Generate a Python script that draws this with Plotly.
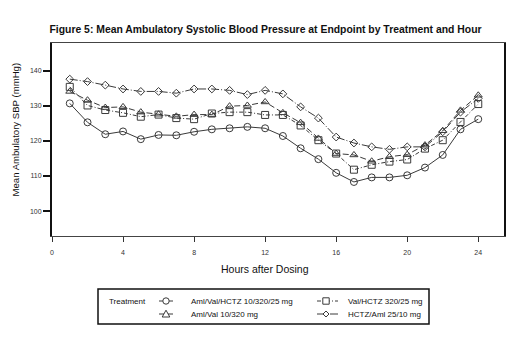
import plotly.graph_objects as go

# Hourly mean ambulatory SBP (mmHg) by treatment
hours = list(range(1, 25))
aml_val_hctz = [130.7, 125.3, 121.9, 122.7, 120.5, 121.7, 121.6, 122.6, 123.3, 123.6, 124.0, 123.6,
                121.4, 117.9, 114.8, 110.9, 108.3, 109.6, 109.6, 110.2, 112.4, 116.0, 123.3, 126.2]
aml_val = [134.1, 131.6, 129.5, 129.7, 128.2, 127.6, 127.0, 127.5, 127.5, 129.9, 130.1, 131.1,
           128.0, 125.2, 120.7, 116.4, 116.0, 114.2, 115.5, 116.1, 118.8, 122.9, 128.7, 133.0]
val_hctz = [135.4, 130.1, 128.8, 128.0, 126.9, 127.5, 126.5, 126.2, 127.8, 128.2, 128.2, 127.4,
            127.4, 124.4, 120.2, 116.4, 111.8, 113.2, 114.1, 114.7, 117.8, 120.2, 125.4, 130.5]
hctz_aml = [137.6, 136.9, 135.9, 134.8, 134.1, 134.1, 133.6, 134.8, 134.8, 134.4, 133.2, 134.4,
            133.4, 129.7, 126.5, 121.1, 119.4, 118.3, 117.6, 118.3, 118.3, 122.6, 128.2, 132.1]

x_ticks = [0, 4, 8, 12, 16, 20, 24]
y_ticks = [100, 110, 120, 130, 140]

FONT = "Liberation Sans, Arial, sans-serif"
LINE = "#3a3a3a"
W, H = 525, 338
ML, MR, MT, MB = 52, 21, 43, 102
PW, PH = W - ML - MR, H - MT - MB


def px(x):
    """Horizontal pixel position -> paper fraction."""
    return (x - ML) / PW


def py(y):
    """Vertical pixel position (from top) -> paper fraction."""
    return (H - MB - y) / PH


# name, values, marker symbol, size, dash pattern, legend column, legend row
series = [
    ("Aml/Val/HCTZ 10/320/25 mg", aml_val_hctz, "circle-open", 7, "solid", 0, 0),
    ("Aml/Val 10/320 mg", aml_val, "triangle-up-open", 7, "6px,3px", 0, 1),
    ("Val/HCTZ 320/25 mg", val_hctz, "square-open", 7, "4px,2px,1px,2px", 1, 0),
    ("HCTZ/Aml 25/10 mg", hctz_aml, "diamond-open", 6, "8px,2px,1px,2px", 1, 1),
]

fig = go.Figure()
for name, vals, sym, size, dash, _, _ in series:
    fig.add_trace(go.Scatter(
        x=hours, y=vals, name=name, mode="lines+markers", showlegend=False,
        line=dict(color=LINE, width=1, dash=dash),
        marker=dict(symbol=sym, size=size, color=LINE, line=dict(width=1, color=LINE)),
    ))

# ---- legend box drawn with shapes and annotations ----
shapes = [dict(type="rect", xref="paper", yref="paper",
               x0=px(98), x1=px(429), y0=py(324), y1=py(289),
               line=dict(color="#111", width=1.5), fillcolor="rgba(0,0,0,0)", layer="above")]
annotations = [dict(text="Treatment", xref="paper", yref="paper", x=px(107), y=py(301),
                    xanchor="left", yanchor="middle", showarrow=False,
                    font=dict(family=FONT, size=8, color="#111"))]

row_y = [301, 314]
col_line = [(159, 173), (317, 338)]
col_mark = [166, 326]
col_text = [189, 346]
for name, _, sym, size, dash, col, row in series:
    yc = row_y[row]
    x0, x1 = col_line[col]
    shapes.append(dict(type="line", xref="paper", yref="paper",
                       x0=px(x0), x1=px(x1), y0=py(yc), y1=py(yc),
                       line=dict(color=LINE, width=1, dash=dash)))
    xc = col_mark[col]
    r = 3.2
    mk = dict(xref="paper", yref="paper", line=dict(color=LINE, width=1), fillcolor="white")
    if sym.startswith("circle"):
        shapes.append(dict(type="circle", x0=px(xc - r), x1=px(xc + r), y0=py(yc + r), y1=py(yc - r), **mk))
    elif sym.startswith("square"):
        shapes.append(dict(type="rect", x0=px(xc - r), x1=px(xc + r), y0=py(yc + r), y1=py(yc - r), **mk))
    elif sym.startswith("triangle"):
        path = "M {} {} L {} {} L {} {} Z".format(px(xc - 3.8), py(yc + 3), px(xc + 3.8), py(yc + 3),
                                                 px(xc), py(yc - 3.8))
        shapes.append(dict(type="path", path=path, **mk))
    else:
        path = "M {} {} L {} {} L {} {} L {} {} Z".format(px(xc - 3), py(yc), px(xc), py(yc - 3),
                                                         px(xc + 3), py(yc), px(xc), py(yc + 3))
        shapes.append(dict(type="path", path=path, **mk))
    annotations.append(dict(text=name, xref="paper", yref="paper", x=px(col_text[col]), y=py(yc),
                            xanchor="left", yanchor="middle", showarrow=False,
                            font=dict(family=FONT, size=8, color="#111")))

# axis titles
annotations.append(dict(text="Hours after Dosing", xref="paper", yref="paper",
                        x=px(264.5), y=py(269), xanchor="center", yanchor="middle", showarrow=False,
                        font=dict(family=FONT, size=10.5, color="#111")))
annotations.append(dict(text="Mean Ambulatory SBP (mmHg)", textangle=-90, showarrow=False,
                        xref="paper", yref="paper", x=px(15), y=py(129.5),
                        xanchor="center", yanchor="middle",
                        font=dict(family=FONT, size=9.6, color="#111")))

fig.update_layout(
    width=W, height=H,
    margin=dict(l=ML, r=MR, t=MT, b=MB, autoexpand=False),
    paper_bgcolor="white", plot_bgcolor="white",
    showlegend=False,
    title=dict(
        text="<b>Figure 5: Mean Ambulatory Systolic Blood Pressure at Endpoint by Treatment and Hour</b>",
        font=dict(family=FONT, size=10.4, color="#111"),
        x=px(265.5), xref="paper", xanchor="center", y=1 - 29 / H, yanchor="middle",
    ),
    xaxis=dict(
        range=[0, 25.45], tickvals=x_ticks, ticks="outside", ticklen=5, tickcolor="#333",
        ticklabelstandoff=5,
        showgrid=False, zeroline=False, showline=True, linecolor="#444", linewidth=1, mirror=True,
        tickfont=dict(family=FONT, size=7, color="#333"),
    ),
    yaxis=dict(
        range=[92.9, 147.9], tickvals=y_ticks, ticks="outside", ticklen=7, tickcolor="#111", tickwidth=1.5,
        showgrid=False, zeroline=False, showline=True, linecolor="#111", linewidth=2, mirror=True,
        tickfont=dict(family=FONT, size=7, color="#333"),
    ),
    shapes=shapes,
    annotations=annotations,
)

fig.write_html("out.html")
